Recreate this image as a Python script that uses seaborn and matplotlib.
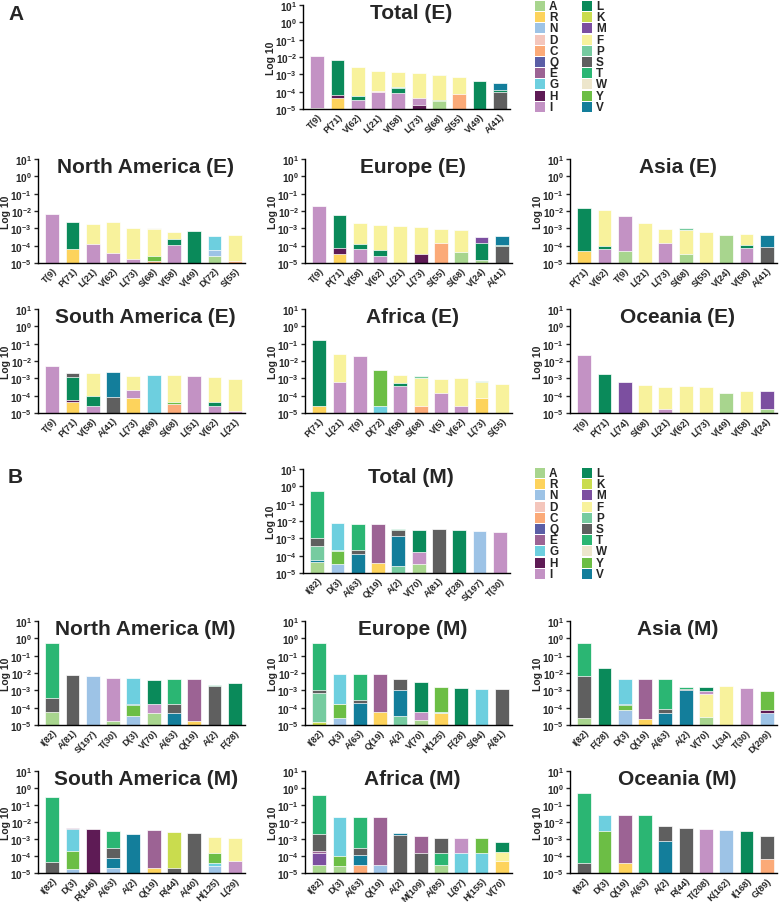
import pandas as pd
import seaborn as sns
import matplotlib.pyplot as plt
from matplotlib.patches import Rectangle

sns.set_style('ticks')
plt.rcParams['font.family'] = ['Liberation Sans', 'DejaVu Sans']
plt.rcParams['font.weight'] = 'bold'
plt.rcParams['mathtext.fontset'] = 'custom'
plt.rcParams['mathtext.rm'] = 'Liberation Sans:bold'
plt.rcParams['mathtext.bf'] = 'Liberation Sans:bold'
plt.rcParams['mathtext.it'] = 'Liberation Sans:bold'

# residue colours (legend order)
residues = list('ARNDCQEGHILKMFPSTWYV')
res_colors = ['#a8d58e', '#fdd35c', '#9dc3e6', '#f4c6bc', '#fbaa78',
              '#5b5ea6', '#9c6394', '#6dcfdf', '#5e1b55', '#c392c4',
              '#0a8a5a', '#c9dc4e', '#7c4fa0', '#f8f29c', '#76cba0',
              '#5f5f5f', '#2bb673', '#ede6cc', '#6cbe45', '#137e9b']

# each bar: list of (residue, cumulative top) from bottom to top
total_e_labels = ['T(9)', 'P(71)', 'V(62)', 'L(21)', 'V(58)', 'L(73)', 'S(68)', 'S(55)', 'V(49)', 'A(41)']
total_e_stacks = [[('A', 1.1e-5), ('I', 1.2e-2)],
                  [('R', 4.6e-5), ('H', 6.5e-5), ('L', 6.8e-3)],
                  [('I', 3.4e-5), ('L', 5.5e-5), ('G', 5.8e-5), ('F', 2.5e-3)],
                  [('I', 9.6e-5), ('D', 1.05e-4), ('F', 1.6e-3)],
                  [('I', 8e-5), ('L', 1.7e-4), ('P', 1.85e-4), ('F', 1.3e-3)],
                  [('H', 1.7e-5), ('I', 4.2e-5), ('F', 1.2e-3)],
                  [('A', 2.8e-5), ('Y', 3.4e-5), ('F', 8.8e-4), ('P', 9.5e-4)],
                  [('C', 7e-5), ('F', 7e-4)],
                  [('L', 4.2e-4)],
                  [('S', 1e-4), ('L', 1.2e-4), ('V', 3.3e-4)]]

na_e_labels = ['T(9)', 'P(71)', 'L(21)', 'V(62)', 'L(73)', 'S(68)', 'V(58)', 'V(49)', 'D(72)', 'S(55)']
na_e_stacks = [[('I', 6.8e-3)],
               [('R', 6.5e-5), ('L', 2.2e-3)],
               [('I', 1.2e-4), ('F', 1.7e-3)],
               [('I', 3.7e-5), ('F', 2.4e-3)],
               [('I', 1.8e-5), ('F', 1.1e-3)],
               [('C', 1.35e-5), ('Y', 2.6e-5), ('F', 9.5e-4), ('W', 1e-3)],
               [('I', 1.15e-4), ('L', 2.3e-4), ('F', 6e-4)],
               [('L', 6.8e-4)],
               [('A', 2.7e-5), ('N', 5.7e-5), ('G', 3.7e-4)],
               [('C', 1.35e-5), ('F', 4e-4)]]

eu_e_labels = ['T(9)', 'P(71)', 'V(58)', 'V(62)', 'L(21)', 'L(73)', 'S(55)', 'S(68)', 'V(24)', 'A(41)']
eu_e_stacks = [[('I', 1.9e-2)],
               [('R', 3.2e-5), ('H', 7.4e-5), ('L', 5.6e-3)],
               [('I', 6.2e-5), ('L', 1.3e-4), ('F', 2e-3)],
               [('I', 2.6e-5), ('L', 5.5e-5), ('F', 1.6e-3)],
               [('F', 1.35e-3)],
               [('H', 3.2e-5), ('F', 1.15e-3), ('W', 1.2e-3)],
               [('C', 1.35e-4), ('F', 9.5e-4)],
               [('A', 4.4e-5), ('F', 7.7e-4), ('P', 8.5e-4)],
               [('A', 1.5e-5), ('L', 1.4e-4), ('M', 3.2e-4)],
               [('S', 1e-4), ('L', 1.15e-4), ('V', 3.8e-4)]]

as_e_labels = ['P(71)', 'V(62)', 'T(9)', 'L(21)', 'L(73)', 'S(68)', 'S(55)', 'V(24)', 'V(58)', 'A(41)']
as_e_stacks = [[('R', 5e-5), ('L', 1.4e-2)],
               [('I', 6.8e-5), ('L', 9e-5), ('F', 1.15e-2)],
               [('A', 5e-5), ('I', 5.5e-3)],
               [('F', 2e-3)],
               [('I', 1.5e-4), ('F', 9e-4)],
               [('A', 3.2e-5), ('F', 8.4e-4), ('P', 1e-3)],
               [('F', 6.5e-4)],
               [('A', 4e-4)],
               [('I', 7e-5), ('L', 1.1e-4), ('F', 5e-4)],
               [('S', 8.8e-5), ('V', 4.2e-4)]]

sa_e_labels = ['T(9)', 'P(71)', 'V(58)', 'A(41)', 'L(73)', 'R(69)', 'S(68)', 'L(51)', 'V(62)', 'L(21)']
sa_e_stacks = [[('I', 5e-3)],
               [('R', 4.3e-5), ('H', 5.8e-5), ('L', 1.25e-3), ('S', 2.1e-3)],
               [('I', 2.4e-5), ('L', 9.8e-5), ('F', 2.1e-3)],
               [('S', 8.5e-5), ('V', 2.2e-3)],
               [('R', 6.9e-5), ('I', 2.2e-4), ('F', 1.4e-3)],
               [('G', 1.5e-3)],
               [('C', 3.3e-5), ('Y', 4.4e-5), ('F', 1.5e-3)],
               [('I', 1.35e-3)],
               [('I', 2.4e-5), ('L', 4.4e-5), ('F', 1.15e-3)],
               [('I', 1.3e-5), ('F', 9e-4)]]

af_e_labels = ['P(71)', 'L(21)', 'T(9)', 'D(72)', 'V(58)', 'S(68)', 'V(5)', 'V(62)', 'L(73)', 'S(55)']
af_e_stacks = [[('R', 2.5e-5), ('L', 0.155)],
               [('I', 5.9e-4), ('F', 2.4e-2)],
               [('I', 2e-2)],
               [('G', 2.6e-5), ('Y', 3.1e-3)],
               [('I', 3.5e-4), ('L', 5.5e-4), ('F', 1.55e-3)],
               [('C', 2.6e-5), ('F', 1.1e-3), ('P', 1.3e-3)],
               [('I', 1.35e-4), ('F', 9.5e-4)],
               [('I', 2.6e-5), ('F', 1e-3)],
               [('R', 7.7e-5), ('F', 6.5e-4), ('P', 7e-4)],
               [('F', 4.8e-4)]]

oc_e_labels = ['T(9)', 'P(71)', 'L(74)', 'S(68)', 'L(21)', 'V(62)', 'L(73)', 'V(49)', 'V(58)', 'V(24)']
oc_e_stacks = [[('I', 2.3e-2)],
               [('L', 1.8e-3)],
               [('M', 6.2e-4)],
               [('F', 4.4e-4)],
               [('I', 1.8e-5), ('F', 3.2e-4)],
               [('F', 3.7e-4)],
               [('F', 3.2e-4)],
               [('A', 1.35e-4)],
               [('F', 1.9e-4)],
               [('A', 1.8e-5), ('M', 1.8e-4)]]

total_m_labels = ['I(82)', 'D(3)', 'A(63)', 'Q(19)', 'A(2)', 'V(70)', 'A(81)', 'F(28)', 'S(197)', 'T(30)']
total_m_stacks = [[('A', 4.3e-5), ('V', 5.3e-5), ('P', 3.4e-4), ('S', 1.07e-3), ('T', 0.51)],
                  [('N', 3.1e-5), ('Y', 1.8e-4), ('P', 2e-4), ('G', 7.5e-3)],
                  [('V', 1.2e-4), ('S', 2.2e-4), ('T', 6.9e-3)],
                  [('R', 3.8e-5), ('E', 6.6e-3)],
                  [('P', 2.4e-5), ('V', 1.3e-3), ('S', 3.1e-3), ('T', 3.5e-3)],
                  [('A', 3.1e-5), ('I', 1.6e-4), ('L', 3.1e-3)],
                  [('S', 3.5e-3)],
                  [('L', 3.1e-3)],
                  [('N', 2.6e-3)],
                  [('I', 2.4e-3)]]

na_m_labels = ['I(82)', 'A(81)', 'S(197)', 'T(30)', 'D(3)', 'V(70)', 'A(63)', 'Q(19)', 'A(2)', 'F(28)']
na_m_stacks = [[('A', 6e-5), ('S', 3.5e-4), ('T', 0.55)],
               [('S', 8e-3)],
               [('N', 6.5e-3)],
               [('A', 1.8e-5), ('I', 5.5e-3)],
               [('N', 3.5e-5), ('Y', 1.4e-4), ('V', 1.6e-4), ('G', 5.5e-3)],
               [('A', 5e-5), ('I', 1.7e-4), ('L', 4e-3)],
               [('V', 5e-5), ('S', 1.7e-4), ('T', 4.8e-3)],
               [('R', 1.6e-5), ('E', 4.6e-3)],
               [('S', 1.8e-3), ('T', 2.1e-3)],
               [('L', 2.5e-3)]]

eu_m_labels = ['I(82)', 'D(3)', 'A(63)', 'Q(19)', 'A(2)', 'V(70)', 'H(125)', 'F(28)', 'S(94)', 'A(81)']
eu_m_stacks = [[('K', 1.4e-5), ('P', 6.9e-4), ('S', 1e-3), ('T', 0.55)],
               [('N', 2.4e-5), ('Y', 1.6e-4), ('V', 1.7e-4), ('G', 9e-3)],
               [('V', 1.8e-4), ('S', 2.8e-4), ('T', 8.7e-3)],
               [('R', 5.7e-5), ('E', 8.7e-3)],
               [('P', 3.5e-5), ('V', 1e-3), ('S', 4.7e-3)],
               [('A', 1.9e-5), ('I', 5.7e-5), ('L', 3e-3)],
               [('R', 4.8e-5), ('G', 6e-5), ('Y', 1.5e-3)],
               [('L', 1.4e-3)],
               [('G', 1.2e-3)],
               [('S', 1.2e-3)]]

as_m_labels = ['I(82)', 'F(28)', 'D(3)', 'Q(19)', 'A(63)', 'A(2)', 'V(70)', 'L(34)', 'T(30)', 'D(209)']
as_m_stacks = [[('A', 2.7e-5), ('S', 6.4e-3), ('T', 0.55)],
               [('L', 1.9e-2)],
               [('N', 7.4e-5), ('Y', 1.45e-4), ('V', 1.6e-4), ('G', 4.7e-3)],
               [('R', 2.1e-5), ('E', 4.7e-3)],
               [('V', 4.8e-5), ('S', 8.1e-5), ('T', 4.5e-3)],
               [('V', 1e-3), ('S', 1.2e-3), ('T', 1.6e-3)],
               [('A', 3e-5), ('F', 6e-4), ('I', 8.6e-4), ('L', 1.5e-3)],
               [('F', 1.75e-3)],
               [('I', 1.3e-3)],
               [('N', 4.8e-5), ('H', 7.4e-5), ('Y', 9.4e-4)]]

sa_m_labels = ['I(82)', 'D(3)', 'R(146)', 'A(63)', 'A(2)', 'Q(19)', 'R(44)', 'A(40)', 'H(125)', 'L(29)']
sa_m_stacks = [[('S', 4.5e-5), ('T', 0.3)],
               [('N', 1.8e-5), ('Y', 2e-4), ('G', 3.8e-3), ('E', 4.3e-3)],
               [('H', 4e-3)],
               [('N', 2e-5), ('V', 8e-5), ('S', 3e-4), ('T', 3e-3)],
               [('V', 2e-3)],
               [('R', 2e-5), ('E', 3.2e-3)],
               [('S', 2e-5), ('K', 2.5e-3)],
               [('S', 2.3e-3)],
               [('N', 2.5e-5), ('G', 4e-5), ('Y', 1.5e-4), ('F', 1.4e-3)],
               [('I', 5e-5), ('F', 1.2e-3)]]

af_m_labels = ['I(82)', 'D(3)', 'A(63)', 'Q(19)', 'A(2)', 'M(109)', 'A(85)', 'L(87)', 'H(155)', 'V(70)']
af_m_stacks = [[('A', 3e-5), ('M', 1.5e-4), ('E', 2e-4), ('S', 2e-3), ('T', 0.4)],
               [('A', 2.5e-5), ('Y', 1e-4), ('G', 2e-2)],
               [('C', 3e-5), ('V', 1.2e-4), ('S', 3e-4), ('T', 2e-2)],
               [('N', 3e-5), ('E', 2e-2)],
               [('S', 1.8e-3), ('V', 2.4e-3)],
               [('S', 1.5e-4), ('E', 1.5e-3)],
               [('A', 3e-5), ('T', 1.5e-4), ('S', 1.2e-3)],
               [('G', 1.5e-4), ('I', 1.1e-3)],
               [('G', 1.5e-4), ('Y', 1.2e-3)],
               [('R', 5e-5), ('F', 1.8e-4), ('L', 7e-4)]]

oc_m_labels = ['I(82)', 'D(3)', 'Q(19)', 'A(63)', 'A(2)', 'R(44)', 'T(208)', 'K(162)', 'I(168)', 'G(89)']
oc_m_stacks = [[('S', 4e-5), ('T', 0.5)],
               [('Y', 3e-3), ('G', 2.5e-2)],
               [('R', 4e-5), ('E', 2.5e-2)],
               [('T', 2.5e-2)],
               [('V', 8e-4), ('S', 6e-3)],
               [('S', 4.5e-3)],
               [('I', 4e-3)],
               [('N', 3.5e-3)],
               [('L', 3e-3)],
               [('C', 7e-5), ('S', 1.5e-3)]]

W, H = 783, 903
color_of = dict(zip(residues, res_colors))
fig = plt.figure(figsize=(W / 100, H / 100), dpi=100)


def panel(left, top, title, labels, stacks, width=207, height=104):
    ax = fig.add_axes([left / W, 1 - (top + height) / H, width / W, height / H])
    ax.set_yscale('log')
    rows = []
    for lab, segs in zip(labels, stacks):
        for k, (res, val) in enumerate(segs):
            rows.append({'label': lab, 'res': res, 'top': val, 'layer': k})
    df = pd.DataFrame(rows)
    # draw outer layers first, inner (lower) segments on top
    for k in sorted(df['layer'].unique(), reverse=True):
        sub = df[df['layer'] == k]
        pal = {lab: color_of[r] for lab, r in zip(sub['label'], sub['res'])}
        sns.barplot(data=sub, x='label', y='top', hue='label', order=labels,
                    palette=pal, legend=False, width=0.68, saturation=1,
                    errorbar=None, edgecolor='white', linewidth=0.5, ax=ax)
    ax.set_ylim(1e-5, 10)
    ax.set_xlim(-0.7, len(labels) - 0.5)
    ticks = [10.0 ** p for p in range(-5, 2)]
    ax.set_yticks(ticks)
    ax.set_yticklabels([r'$\mathbf{10^{%d}}$' % p for p in range(-5, 2)], fontsize=7.3)
    ax.minorticks_off()
    ax.tick_params(axis='y', length=3, width=1, pad=1.5)
    ax.tick_params(axis='x', length=0, pad=2)
    ax.set_xticks(range(len(labels)))
    ax.set_xticklabels(labels, rotation=45, ha='right', rotation_mode='anchor',
                       fontsize=6.6, fontweight='bold')
    ax.set_xlabel('')
    ax.set_ylabel('Log 10', fontsize=7.5, fontweight='bold')
    ax.yaxis.set_label_coords(-27 / width, 0.5)
    for s in ['top', 'right']:
        ax.spines[s].set_visible(False)
    for s in ['left', 'bottom']:
        ax.spines[s].set_linewidth(1)
        ax.spines[s].set_color('black')
    ax.text(0.52, 0.93, title, transform=ax.transAxes, ha='center', va='center',
            fontsize=15, fontweight='bold')
    return ax


def legend_block(y0):
    for i, (res, col) in enumerate(zip(residues, res_colors)):
        c, r = divmod(i, 10)
        px = 535 + c * 47
        py = y0 + r * 11.2
        fig.add_artist(Rectangle((px / W, 1 - (py + 5) / H), 10 / W, 10 / H,
                                 transform=fig.transFigure, facecolor=col,
                                 edgecolor='none'))
        fig.text((px + 14) / W, 1 - py / H, res, ha='left', va='center',
                 fontsize=8.5, fontweight='bold')


# panel A (E)
panel(303, 6, 'Total (E)', total_e_labels, total_e_stacks)
panel(38, 160, 'North America (E)', na_e_labels, na_e_stacks)
panel(305, 160, 'Europe (E)', eu_e_labels, eu_e_stacks)
panel(570, 160, 'Asia (E)', as_e_labels, as_e_stacks)
panel(38, 310, 'South America (E)', sa_e_labels, sa_e_stacks)
panel(305, 310, 'Africa (E)', af_e_labels, af_e_stacks)
panel(570, 310, 'Oceania (E)', oc_e_labels, oc_e_stacks)
legend_block(7)

# panel B (M)
panel(303, 470, 'Total (M)', total_m_labels, total_m_stacks)
panel(38, 622, 'North America (M)', na_m_labels, na_m_stacks)
panel(305, 622, 'Europe (M)', eu_m_labels, eu_m_stacks)
panel(570, 622, 'Asia (M)', as_m_labels, as_m_stacks)
panel(38, 772, 'South America (M)', sa_m_labels, sa_m_stacks, height=102)
panel(305, 772, 'Africa (M)', af_m_labels, af_m_stacks, height=102)
panel(570, 772, 'Oceania (M)', oc_m_labels, oc_m_stacks, height=102)
legend_block(474)

fig.text(8 / W, 1 - 14 / H, 'A', fontsize=15, fontweight='bold', va='center')
fig.text(8 / W, 1 - 478 / H, 'B', fontsize=15, fontweight='bold', va='center')

fig.savefig('out.png', dpi=100)
